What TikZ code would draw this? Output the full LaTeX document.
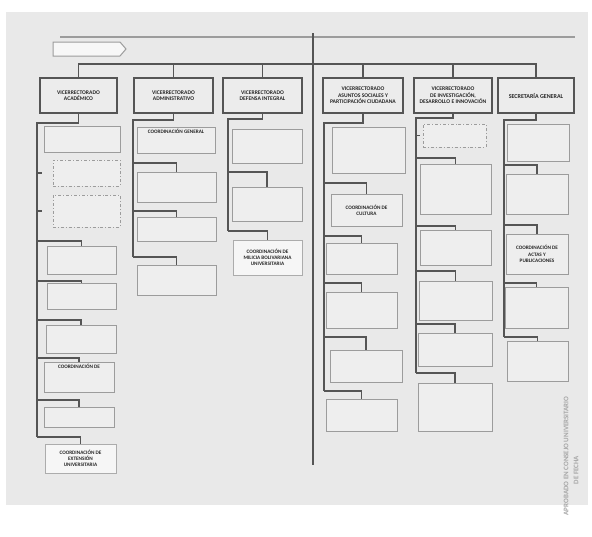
\documentclass[tikz,border=0pt]{standalone}
\usepackage{fontspec}
\setmainfont{Carlito}
\usetikzlibrary{calc}
\definecolor{cline}{HTML}{555555}
\definecolor{cedge}{HTML}{9C9C9C}
\definecolor{cpaper}{HTML}{E9E9E9}
\tikzset{
  every picture/.style={line width=1pt},
  vrbox/.style 2 args={draw=cline, fill=gray!15, line width=1.8pt, minimum width=#1pt, minimum height=#2pt, inner sep=1pt, align=center, font=\bfseries\fontsize{5.6}{6.6}\selectfont, text=black!85},
  ubox/.style 2 args={draw=cedge, fill=gray!13, line width=0.9pt, minimum width=#1pt, minimum height=#2pt, inner sep=1pt, align=center, font=\bfseries\fontsize{5.2}{6.2}\selectfont, text=black!85},
  dbox/.style 2 args={ubox={#1}{#2}, dash dot},
  link/.style={draw=cline, line width=1.2pt},
  trunk/.style={draw=cline, line width=1.5pt},
  hairline/.style={draw=cedge, line width=1.1pt},
  banner/.style={draw=cedge, fill=gray!6, line width=1pt},
  stamp/.style={font=\bfseries\fontsize{7}{8}\selectfont, text=gray!70},
}
\begin{document}
\begin{tikzpicture}[x=1pt, y=-1pt]
  \useasboundingbox (0,0) rectangle (592,536);
  \fill[white] (0,0) rectangle (592,536);
  \fill[cpaper] (6,12) rectangle (588,505);
  % top rule, banner and main axis
  \draw[hairline] (60,37) -- (575,37);
  \draw[banner] (53,42) -- (120,42) -- (126,49) -- (120,56) -- (53,56) -- cycle;
  \coordinate (top) at (313,33);
  \coordinate (bot) at (313,465);
  \draw[trunk] (top) -- (bot);
  % vicerrectorados
  \node[vrbox={77}{35}] (vra) at (78.5,95.5) {VICERRECTORADO\\ACADÉMICO};
  \node[vrbox={79}{35}] (vrb) at (173.5,95.5) {VICERRECTORADO\\ADMINISTRATIVO};
  \node[vrbox={79}{35}] (vrc) at (262.5,95.5) {VICERRECTORADO\\DEFENSA INTEGRAL};
  \node[vrbox={80}{35}] (vrd) at (363,95.5) {VICERRECTORADO\\ASUNTOS SOCIALES Y\\PARTICIPACIÓN CIUDADANA};
  \node[vrbox={78}{35}] (vre) at (453,95.5) {VICERRECTORADO\\DE INVESTIGACIÓN,\\DESARROLLO E INNOVACIÓN};
  \node[vrbox={76}{35}, font=\bfseries\fontsize{6}{7}\selectfont] (vrf) at (536,95.5) {SECRETARÍA GENERAL};
  \coordinate (bus) at (0,64);
  \draw[link] (vra.north) |- (bus -| vrf.north) -- (vrf.north);
  \draw[link] (vrb.north) -- (bus -| vrb.north);
  \draw[link] (vrc.north) -- (bus -| vrc.north);
  \draw[link] (vrd.north) -- (bus -| vrd.north);
  \draw[link] (vre.north) -- (bus -| vre.north);

  % academico
  \node[ubox={76}{26}] (a1) at (82,139) {};
  \node[dbox={67}{26}] (a2) at (86.5,173) {};
  \node[dbox={67}{32}] (a3) at (86.5,211) {};
  \node[ubox={69}{28}] (a4) at (81.5,260) {};
  \node[ubox={69}{26}] (a5) at (81.5,296) {};
  \node[ubox={70}{28}] (a6) at (81,339) {};
  \node[ubox={70}{30}, text depth=21pt] (a7) at (79,377) {COORDINACIÓN DE};
  \node[ubox={70}{20}] (a8) at (79,417) {};
  \node[ubox={71}{29}, draw=gray!65, fill=gray!7] (a9) at (80.5,458.5) {COORDINACIÓN DE\\EXTENSIÓN\\UNIVERSITARIA};
  \coordinate (sa) at (37,437);
  \draw[link] (vra.south) -- ++(0,9) -| (sa);
  \draw[link] (sa |- a2.west) -- ++(5,0);
  \draw[link] (sa |- a3.west) -- ++(5,0);
  \draw[link] (sa |- 0,241) -| (a4.north);
  \draw[link] (sa |- 0,281) -| (a5.north);
  \draw[link] (sa |- 0,320) -| (a6.north);
  \draw[link] (sa |- 0,358) -| (a7.north);
  \draw[link] (sa |- 0,400) -| (a8.north);
  \draw[link] (sa) -| (a9.north);

  % administrativo
  \node[ubox={78}{26}, text depth=18pt] (b1) at (176,140) {COORDINACIÓN GENERAL};
  \node[ubox={79}{30}] (b2) at (176.5,187) {};
  \node[ubox={79}{24}] (b3) at (176.5,229) {};
  \node[ubox={79}{30}] (b4) at (176.5,280) {};
  \coordinate (sb) at (133,257);
  \draw[link] (vrb.south) -- ++(0,6) -| (sb);
  \draw[link] (sb |- 0,163) -| (b2.north);
  \draw[link] (sb |- 0,211) -| (b3.north);
  \draw[link] (sb) -| (b4.north);

  % defensa integral
  \node[ubox={70}{34}] (c1) at (267,146) {};
  \node[ubox={70}{34}] (c2) at (267,204) {};
  \node[ubox={69}{35}, draw=gray!65, fill=gray!7] (c3) at (267.5,257.5) {COORDINACIÓN DE\\MILICIA BOLIVARIANA\\UNIVERSITARIA};
  \coordinate (sc) at (228,231);
  \draw[link] (vrc.south) -- ++(0,5) -| (sc);
  \draw[link] (sc |- 0,172) -| (c2.north);
  \draw[link] (sc) -| (c3.north);

  % asuntos sociales
  \node[ubox={73}{46}] (d1) at (368.5,150) {};
  \node[ubox={71}{32}] (d2) at (366.5,210) {COORDINACIÓN DE\\CULTURA};
  \node[ubox={71}{31}] (d3) at (361.5,258.5) {};
  \node[ubox={71}{36}] (d4) at (361.5,310) {};
  \node[ubox={72}{32}] (d5) at (366,366) {};
  \node[ubox={71}{32}] (d6) at (361.5,415) {};
  \coordinate (sd) at (324,391);
  \draw[link] (vrd.south) -- ++(0,9) -| (sd);
  \draw[link] (sd |- 0,183) -| (d2.north);
  \draw[link] (sd |- 0,236) -| (d3.north);
  \draw[link] (sd |- 0,283) -| (d4.north);
  \draw[link] (sd |- 0,337) -| (d5.north);
  \draw[link] (sd) -| (d6.north);

  % investigacion
  \node[dbox={63}{23}] (e1) at (454.5,135.5) {};
  \node[ubox={71}{50}] (e2) at (455.5,189) {};
  \node[ubox={71}{35}] (e3) at (455.5,247.5) {};
  \node[ubox={73}{39}] (e4) at (455.5,300.5) {};
  \node[ubox={74}{33}] (e5) at (455,349.5) {};
  \node[ubox={74}{48}] (e6) at (455,407) {};
  \coordinate (se) at (416,373);
  \draw[link] (vre.south) -- ++(0,4) -| (se);
  \draw[link] (se |- e1.west) -- ++(4,0);
  \draw[link] (se |- 0,158) -| (e2.north);
  \draw[link] (se |- 0,226) -| (e3.north);
  \draw[link] (se |- 0,271) -| (e4.north);
  \draw[link] (se |- 0,324) -| (e5.north);
  \draw[link] (se) -| (e6.north);

  % secretaria general
  \node[ubox={62}{37}] (f1) at (538,142.5) {};
  \node[ubox={62}{40}] (f2) at (537,194) {};
  \node[ubox={62}{40}] (f3) at (537,254) {COORDINACIÓN DE\\ACTAS Y\\PUBLICACIONES};
  \node[ubox={63}{41}] (f4) at (536.5,307.5) {};
  \node[ubox={61}{40}] (f5) at (537.5,361) {};
  \coordinate (sf) at (504,337);
  \draw[link] (vrf.south) -- ++(0,6) -| (sf);
  \draw[link] (sf |- 0,165) -| (f2.north);
  \draw[link] (sf |- 0,225) -| (f3.north);
  \draw[link] (sf |- 0,283) -| (f4.north);
  \draw[link] (sf) -| (f5.north);

  % approval stamp
  \node[stamp, rotate=90] (apr) at (566,456) {APROBADO EN CONSEJO UNIVERSITARIO};
  \node[stamp, rotate=90] (fecha) at (576,470) {DE FECHA};
\end{tikzpicture}
\end{document}
